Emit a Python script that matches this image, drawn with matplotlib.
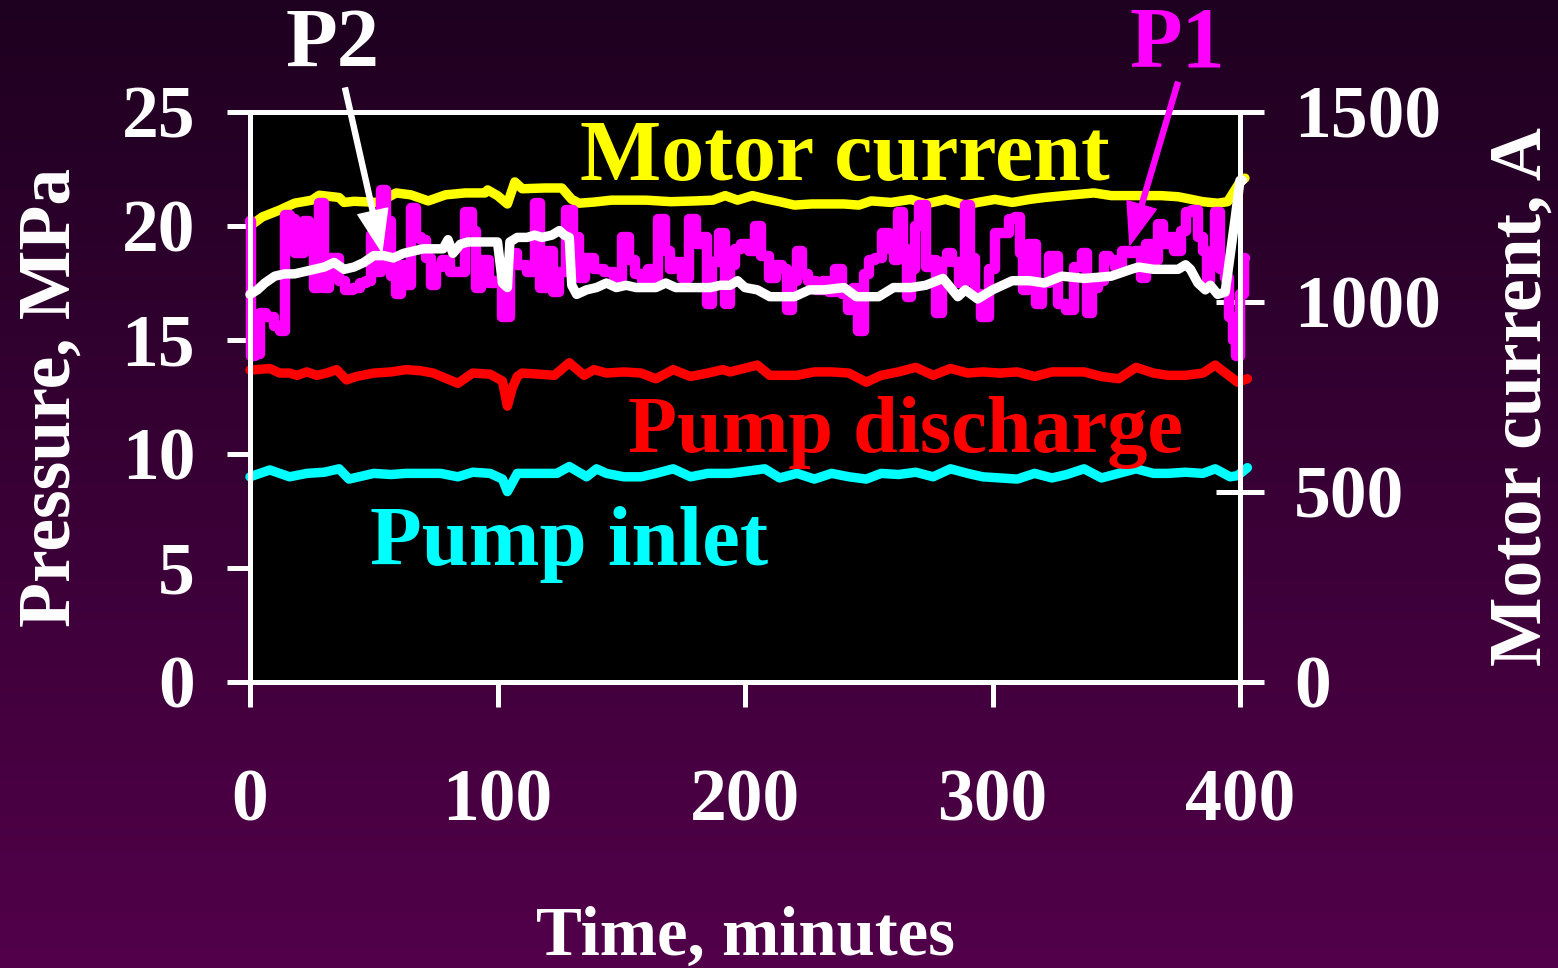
import numpy as np
import matplotlib
matplotlib.use("Agg")
import matplotlib.pyplot as plt
from matplotlib.colors import LinearSegmentedColormap

# ---------------- data ----------------
p1_t = [0, 1, 3, 5, 8, 11, 13, 15, 17, 19, 21, 23, 25, 27, 29, 31, 33, 35, 37, 40,
        43, 46, 48, 50, 52, 54, 56, 58, 60, 62, 64, 66, 68, 70, 72, 74, 76, 79, 83, 86,
        88, 91, 92, 95, 98, 100, 104, 106, 110, 114, 116, 118, 121, 124, 126, 129, 132, 134, 137, 141,
        145, 149, 152, 154, 157, 160, 162, 164, 166, 169, 170, 173, 176, 179, 181, 184, 185, 188, 191, 193,
        195, 197, 200, 203, 205, 208, 211, 214, 216, 218, 220, 222, 224, 227, 230, 233, 235, 238, 240, 243,
        244, 247, 249, 251, 254, 257, 259, 261, 263, 265, 266, 268, 269, 272, 274, 276, 278, 281, 282, 285,
        288, 290, 292, 294, 297, 300, 302, 305, 308, 310, 312, 313, 316, 319, 321, 325, 328, 331, 335, 337,
        339, 341, 344, 346, 348, 351, 354, 356, 359, 361, 363, 366, 368, 370, 372, 375, 377, 379, 382, 384,
        386, 387, 389, 391, 393, 395, 396, 398, 399, 401, 402]
p1_v = [20.2, 14.3, 14.4, 16.2, 16.0, 15.6, 15.4, 20.5, 20.3, 18.8, 18.8, 20.2, 19.0, 17.3, 21.0, 17.3, 18.6, 18.6, 17.6, 17.2,
        17.3, 17.5, 17.6, 19.6, 18.0, 21.6, 20.2, 17.8, 17.0, 18.3, 17.4, 20.8, 19.5, 19.4, 18.6, 17.4, 18.2, 18.5, 18.0, 18.0,
        20.6, 19.8, 17.3, 18.5, 17.5, 17.6, 16.0, 18.8, 18.3, 18.0, 21.0, 17.3, 18.9, 17.1, 18.0, 20.7, 19.5, 17.7, 18.6, 18.1,
        18.0, 17.7, 19.5, 18.5, 17.9, 17.6, 18.1, 17.7, 20.3, 18.9, 18.1, 18.4, 17.7, 20.3, 19.2, 19.5, 16.6, 18.4, 19.7, 16.6,
        18.3, 19.0, 19.2, 18.9, 20.0, 18.7, 17.7, 18.3, 18.1, 16.3, 17.6, 18.9, 17.9, 17.6, 17.2, 17.6, 17.1, 18.1, 17.0, 16.3,
        17.3, 15.4, 17.9, 18.5, 18.6, 19.7, 19.0, 18.5, 20.6, 19.0, 16.9, 18.1, 20.0, 20.9, 18.2, 18.5, 16.2, 18.4, 18.8, 18.4,
        17.5, 20.9, 18.6, 17.0, 16.0, 18.1, 19.7, 19.7, 20.3, 20.4, 18.8, 17.2, 19.2, 16.6, 17.5, 18.7, 16.6, 16.3, 18.2, 18.8,
        16.2, 17.3, 17.6, 18.7, 18.5, 18.2, 18.9, 18.8, 18.9, 17.7, 19.2, 18.5, 20.1, 19.2, 19.5, 18.9, 19.8, 20.6, 20.7, 19.5,
        18.9, 17.6, 18.8, 20.6, 18.1, 17.7, 16.0, 15.0, 14.3, 17.0, 18.6]

p2_t = [0, 3, 6, 10, 14, 18, 22, 26, 30, 34, 38, 42, 46, 50, 54, 58, 62, 66, 70, 74,
        78, 80, 82, 85, 88, 92, 96, 100, 102, 104, 105, 108, 112, 115, 118, 122, 125, 127, 129, 130,
        132, 136, 140, 144, 148, 152, 156, 160, 164, 168, 172, 180, 186, 190, 194, 197, 200, 205, 210, 215,
        220, 226, 232, 240, 245, 250, 254, 260, 267, 273, 280, 286, 289, 294, 300, 308, 315, 321, 328, 337,
        348, 356, 359, 365, 370, 375, 378, 380, 383, 386, 388, 391, 394, 396, 398, 400, 401]
p2_v = [17.0, 17.2, 17.5, 17.8, 17.9, 17.9, 18.0, 18.1, 18.2, 18.4, 18.1, 18.2, 18.4, 18.7, 18.7, 18.6, 18.8, 18.9, 19.0, 19.0,
        19.0, 19.4, 18.8, 19.2, 19.3, 19.3, 19.3, 19.3, 17.5, 17.3, 19.3, 19.5, 19.5, 19.6, 19.5, 19.6, 19.8, 19.6, 19.5, 17.4,
        17.0, 17.2, 17.3, 17.5, 17.3, 17.4, 17.3, 17.3, 17.3, 17.5, 17.3, 17.3, 17.3, 17.4, 17.4, 17.6, 17.3, 17.2, 16.9, 16.9,
        16.9, 17.2, 17.2, 17.3, 16.9, 16.9, 16.9, 17.3, 17.3, 17.4, 17.7, 16.9, 17.2, 16.8, 17.2, 17.6, 17.6, 17.5, 17.8, 17.7,
        17.8, 18.1, 18.2, 18.1, 18.1, 18.1, 18.3, 18.1, 17.5, 17.2, 17.4, 17.0, 17.1, 18.7, 20.3, 22.0, 22.0]

mc_t = [0, 5, 12, 18, 25, 28, 36, 38, 42, 52, 59, 65, 72, 79, 87, 95, 96, 100, 104, 107,
        110, 119, 126, 130, 133, 139, 146, 153, 160, 170, 180, 187, 192, 197, 203, 208, 214, 220, 227, 240,
        246, 251, 259, 267, 273, 281, 289, 294, 301, 308, 315, 321, 329, 341, 348, 359, 368, 375, 379, 385,
        391, 395, 398, 400, 402]
mc_v = [1200, 1224, 1242, 1260, 1268, 1281, 1275, 1262, 1265, 1262, 1287, 1282, 1266, 1282, 1287, 1287, 1295, 1280, 1258, 1316,
        1298, 1300, 1300, 1270, 1260, 1263, 1268, 1268, 1268, 1264, 1266, 1268, 1280, 1268, 1280, 1272, 1264, 1255, 1258, 1258,
        1255, 1266, 1262, 1270, 1258, 1270, 1255, 1262, 1270, 1262, 1270, 1275, 1280, 1287, 1280, 1280, 1280, 1277, 1272, 1264,
        1260, 1264, 1295, 1316, 1326]

pd_t = [0, 8, 12, 16, 19, 23, 27, 31, 35, 39, 43, 50, 57, 63, 69, 74, 84, 90, 97, 102,
        104, 106, 108, 110, 117, 123, 129, 135, 139, 144, 151, 158, 164, 171, 178, 185, 191, 194, 205, 210,
        221, 228, 235, 242, 249, 255, 262, 269, 276, 283, 290, 296, 303, 310, 317, 324, 330, 337, 344, 351,
        358, 365, 371, 378, 385, 390, 396, 399, 403]
pd_v = [13.68, 13.75, 13.55, 13.55, 13.45, 13.6, 13.45, 13.55, 13.7, 13.25, 13.4, 13.55, 13.6, 13.7, 13.65, 13.55, 13.1, 13.55, 13.5, 13.2,
        12.1, 12.9, 13.4, 13.55, 13.5, 13.45, 14.0, 13.45, 13.7, 13.55, 13.6, 13.55, 13.3, 13.7, 13.4, 13.55, 13.7, 13.6, 13.9, 13.45,
        13.45, 13.6, 13.6, 13.55, 13.15, 13.45, 13.6, 13.8, 13.45, 13.75, 13.55, 13.6, 13.55, 13.6, 13.4, 13.6, 13.6, 13.6, 13.4, 13.3,
        13.8, 13.55, 13.45, 13.45, 13.55, 13.9, 13.4, 13.15, 13.3]

pi_t = [0, 8, 16, 23, 30, 36, 40, 50, 57, 63, 77, 84, 90, 97, 102, 104, 108, 117, 124, 129,
        136, 140, 144, 151, 158, 164, 171, 178, 185, 194, 208, 214, 221, 228, 235, 242, 249, 255, 262, 269,
        276, 283, 290, 296, 303, 310, 317, 324, 330, 337, 344, 351, 358, 365, 371, 378, 385, 390, 396, 399, 403]
pi_v = [9.0, 9.3, 9.0, 9.15, 9.2, 9.35, 8.9, 9.15, 9.1, 9.15, 9.15, 9.0, 9.2, 9.15, 8.9, 8.35, 9.15, 9.15, 9.15, 9.45,
        9.0, 9.35, 9.15, 9.0, 9.0, 9.15, 9.35, 9.0, 9.15, 9.15, 9.35, 8.95, 9.15, 8.9, 9.15, 9.0, 8.9, 9.15, 9.1, 9.2,
        9.0, 9.35, 9.15, 9.0, 8.95, 8.9, 9.15, 8.95, 9.1, 9.35, 8.95, 9.15, 9.35, 9.15, 9.15, 9.2, 9.15, 9.35, 9.0, 9.05, 9.4]

x_ticks = [0, 100, 200, 300, 400]
y_ticks = [0, 5, 10, 15, 20, 25]
y2_ticks = [0, 500, 1000, 1500]

# ---------------- style ----------------
FONT = "Liberation Serif"
plt.rcParams["font.family"] = [FONT, "DejaVu Serif"]
plt.rcParams["font.weight"] = "bold"

W, H = 1558, 968
fig = plt.figure(figsize=(W / 100, H / 100), dpi=100)

# gradient background
bg = fig.add_axes([0, 0, 1, 1], zorder=-10)
cmap = LinearSegmentedColormap.from_list("bg", ["#1e0020", "#52004a"])
bg.imshow(np.linspace(0, 1, 256).reshape(-1, 1), aspect="auto", cmap=cmap,
          extent=[0, 1, 0, 1], origin="upper")
bg.set_axis_off()

rect = [250 / W, 1 - 682 / H, (1240 - 250) / W, (682 - 112) / H]
ax2 = fig.add_axes(rect, zorder=1)       # motor current (drawn below pressures)
ax = fig.add_axes(rect, zorder=2, sharex=ax2)
ax.patch.set_visible(False)
ax2.set_facecolor("black")

SP = 3.6
for a in (ax, ax2):
    for s in a.spines.values():
        s.set_color("white")
        s.set_linewidth(SP)
        s.set_capstyle("round")

kw = dict(solid_joinstyle="round", solid_capstyle="round", clip_on=False)
ax2.plot(mc_t, mc_v, color="#ffff00", lw=6.8, **kw)
ax.plot(pi_t, pi_v, color="#00ffff", lw=6.8, **kw)
ax.plot(pd_t, pd_v, color="#ff0000", lw=6.8, **kw)
ax.plot(p1_t, p1_v, color="#ff00ff", lw=7.5, drawstyle="steps-mid", **kw)
ax.plot(p2_t, p2_v, color="white", lw=6.8, **kw)

ax.set_xlim(0, 400)
ax.set_ylim(0, 25)
ax2.set_ylim(0, 1500)
ax.set_xticks(x_ticks)
ax.set_yticks(y_ticks)
ax2.set_yticks(y2_ticks)

TS = 53
ax.tick_params(axis="y", which="both", direction="out", length=16.5, width=SP, color="white",
               labelcolor="white", labelsize=TS, pad=23, left=True, right=False)
ax.tick_params(axis="x", direction="out", length=18, width=SP, color="white",
               labelcolor="white", labelsize=TS, pad=44)
ax2.tick_params(axis="y", direction="inout", length=34, width=SP, color="white",
                labelcolor="white", labelsize=TS, pad=22, left=False, right=True,
                labelleft=False, labelright=True)
ax2.tick_params(axis="x", bottom=False, labelbottom=False)
for lab in ax.get_xticklabels() + ax.get_yticklabels() + ax2.get_yticklabels():
    lab.set_fontweight("bold")

ax.set_xlabel("Time, minutes", color="white", fontsize=49.5, fontweight="bold", labelpad=50)
ax.set_ylabel("Pressure, MPa", color="white", fontsize=53, fontweight="bold", labelpad=26)
ax2.yaxis.set_label_position("right")
ax2.set_ylabel("Motor current, A", color="white", fontsize=53, fontweight="bold",
               labelpad=34, rotation=90)

# series labels
ax.text(133.3, 22.0, "Motor current", color="#ffff00", fontsize=62, fontweight="bold", ha="left", va="baseline")
ax.text(152.7, 10.08, "Pump discharge", color="#ff0000", fontsize=57.8, fontweight="bold", ha="left", va="baseline")
ax.text(48.5, 5.13, "Pump inlet", color="#00ffff", fontsize=61, fontweight="bold", ha="left", va="baseline")

ax.text(33.2, 27.0, "P2", color="white", fontsize=61, fontweight="bold", ha="center", va="baseline", clip_on=False)
ax.text(374.6, 27.0, "P1", color="#ff00ff", fontsize=62, fontweight="bold", ha="center", va="baseline", clip_on=False)

ax.annotate("", xy=(53.3, 18.86), xytext=(38.4, 26.05), annotation_clip=False,
            arrowprops=dict(facecolor="white", edgecolor="white", width=3.6,
                            headwidth=22, headlength=30, shrink=0.0))
ax.annotate("", xy=(355.5, 19.17), xytext=(374.9, 26.3), annotation_clip=False,
            arrowprops=dict(facecolor="#ff00ff", edgecolor="#ff00ff", width=3.6,
                            headwidth=22, headlength=30, shrink=0.0))

fig.savefig("out.png", dpi=100, facecolor=fig.get_facecolor())
